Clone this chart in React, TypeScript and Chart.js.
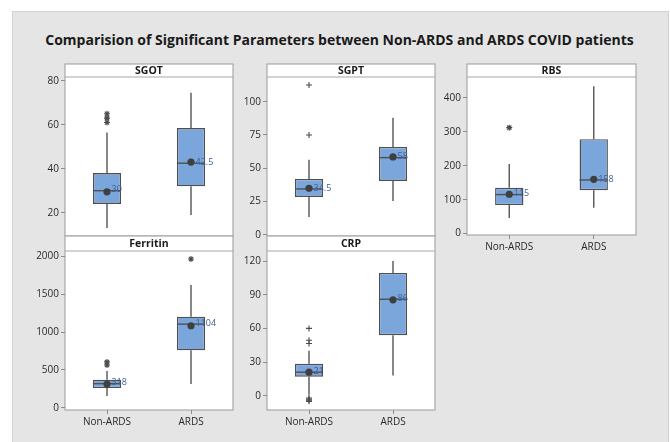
import React, { useEffect, useRef } from 'react';
import { Chart, registerables } from 'chart.js';

Chart.register(...registerables);

const W = 670;
const H = 442;
const FONT = '"Open Sans", "Noto Sans", sans-serif';

const categories = ['Non-ARDS', 'ARDS'];

// Each group: [lower whisker, Q1, median, Q3, upper whisker]
const sgotNonArds = [13, 24, 30, 38, 56.5];
const sgotArds = [19, 32, 42.5, 58.5, 74.5];
const sgotMeans = [29.5, 43];
const sgotOutliersNonArds = [61, 63, 65];
const sgotOutliersArds: number[] = [];
const sgotTicks = [20, 40, 60, 80];

const sgptNonArds = [13.5, 28.5, 34.5, 42, 56.5];
const sgptArds = [25.5, 40.5, 58, 66, 88];
const sgptMeans = [35, 58.5];
const sgptOutliersNonArds = [75, 112.5];
const sgptOutliersArds: number[] = [];
const sgptTicks = [0, 25, 50, 75, 100];

const rbsNonArds = [46, 84, 115, 135, 205];
const rbsArds = [76, 128, 158, 278, 434];
const rbsMeans = [116, 160];
const rbsOutliersNonArds = [312];
const rbsOutliersArds: number[] = [];
const rbsTicks = [0, 100, 200, 300, 400];

const ferritinNonArds = [155, 260, 318, 370, 485];
const ferritinArds = [313, 758, 1104, 1202, 1620];
const ferritinMeans = [313, 1083];
const ferritinOutliersNonArds = [565, 605];
const ferritinOutliersArds = [1965];
const ferritinTicks = [0, 500, 1000, 1500, 2000];

const crpNonArds = [1, 17, 21, 28.5, 40];
const crpArds = [18, 54, 86, 109.5, 120];
const crpMeans = [21, 85.5];
const crpOutliersNonArds = [46.5, 49.5, 60, -2, -3, -4, -5];
const crpOutliersArds: number[] = [];
const crpTicks = [0, 30, 60, 90, 120];

const chartTitle = 'Comparision of Significant Parameters between Non-ARDS and ARDS COVID patients';

type Panel = {
  title: string;
  stats: number[][];
  means: number[];
  outliers: number[][];
  ticks: number[];
  min: number;
  max: number;
  l: number; r: number; t: number; b: number; st: number;
  showX: boolean;
  outlierStyle: string;
};

const panels: Panel[] = [
  { title: 'SGOT', stats: [sgotNonArds, sgotArds], means: sgotMeans, outliers: [sgotOutliersNonArds, sgotOutliersArds], ticks: sgotTicks, min: 9.4, max: 81.7, l: 65, r: 233, t: 77, b: 236, st: 64, showX: false, outlierStyle: 'star' },
  { title: 'SGPT', stats: [sgptNonArds, sgptArds], means: sgptMeans, outliers: [sgptOutliersNonArds, sgptOutliersArds], ticks: sgptTicks, min: -0.8, max: 118.5, l: 267, r: 435, t: 77, b: 236, st: 64, showX: false, outlierStyle: 'cross' },
  { title: 'RBS', stats: [rbsNonArds, rbsArds], means: rbsMeans, outliers: [rbsOutliersNonArds, rbsOutliersArds], ticks: rbsTicks, min: -4, max: 461, l: 467, r: 636, t: 77, b: 235, st: 64, showX: true, outlierStyle: 'star' },
  { title: 'Ferritin', stats: [ferritinNonArds, ferritinArds], means: ferritinMeans, outliers: [ferritinOutliersNonArds, ferritinOutliersArds], ticks: ferritinTicks, min: -30, max: 2070, l: 65, r: 233, t: 251, b: 410, st: 236, showX: true, outlierStyle: 'star' },
  { title: 'CRP', stats: [crpNonArds, crpArds], means: crpMeans, outliers: [crpOutliersNonArds, crpOutliersArds], ticks: crpTicks, min: -12.7, max: 129, l: 267, r: 435, t: 251, b: 410, st: 236, showX: true, outlierStyle: 'cross' },
];

const Y_AXIS_W = 40;
const X_AXIS_H = 30;

const boxPlugin = {
  id: 'boxExtras',
  beforeDraw(chart: any) {
    const { ctx, chartArea: a } = chart;
    const p = chart.options.plugins.boxExtras;
    ctx.save();
    ctx.fillStyle = '#ffffff';
    ctx.fillRect(a.left, p.stripTop, a.right - a.left, a.bottom - p.stripTop);
    ctx.strokeStyle = '#a8a8a8';
    ctx.lineWidth = 1.2;
    ctx.strokeRect(a.left, p.stripTop, a.right - a.left, a.bottom - p.stripTop);
    ctx.beginPath();
    ctx.moveTo(a.left, a.top);
    ctx.lineTo(a.right, a.top);
    ctx.stroke();
    ctx.fillStyle = '#1a1a1a';
    ctx.font = `bold 10.5px ${FONT}`;
    ctx.textAlign = 'center';
    ctx.textBaseline = 'middle';
    ctx.fillText(p.title, (a.left + a.right) / 2, (p.stripTop + a.top) / 2 + 0.5);
    ctx.restore();
  },
  beforeDatasetsDraw(chart: any) {
    const { ctx } = chart;
    const p = chart.options.plugins.boxExtras;
    const xs = chart.scales.x;
    const ys = chart.scales.y;
    ctx.save();
    ctx.strokeStyle = '#555555';
    ctx.lineWidth = 1.4;
    p.stats.forEach((s: number[], i: number) => {
      const x = xs.getPixelForValue(i);
      ctx.beginPath();
      ctx.moveTo(x, ys.getPixelForValue(s[3]));
      ctx.lineTo(x, ys.getPixelForValue(s[4]));
      ctx.moveTo(x, ys.getPixelForValue(s[1]));
      ctx.lineTo(x, ys.getPixelForValue(s[0]));
      ctx.stroke();
    });
    ctx.restore();
  },
  afterDatasetDraw(chart: any, args: any) {
    if (args.index !== 0) return;
    const { ctx } = chart;
    const p = chart.options.plugins.boxExtras;
    const xs = chart.scales.x;
    const ys = chart.scales.y;
    const meta = chart.getDatasetMeta(0);
    ctx.save();
    ctx.strokeStyle = '#505050';
    ctx.lineWidth = 1.4;
    p.stats.forEach((s: number[], i: number) => {
      const x = xs.getPixelForValue(i);
      const w = meta.data[i].width;
      const y = ys.getPixelForValue(s[2]);
      ctx.beginPath();
      ctx.moveTo(x - w / 2, y);
      ctx.lineTo(x + w / 2, y);
      ctx.stroke();
    });
    ctx.restore();
  },
  afterDatasetsDraw(chart: any) {
    const { ctx } = chart;
    const p = chart.options.plugins.boxExtras;
    const xs = chart.scales.x;
    const ys = chart.scales.y;
    ctx.save();
    ctx.fillStyle = '#3f609a';
    ctx.font = `9px ${FONT}`;
    ctx.textAlign = 'left';
    ctx.textBaseline = 'middle';
    p.stats.forEach((s: number[], i: number) => {
      const x = xs.getPixelForValue(i);
      const y = ys.getPixelForValue(s[2]);
      ctx.fillText(String(s[2]), x + 4.5, y - 1);
    });
    ctx.restore();
  },
};

function makeConfig(p: Panel): any {
  const outlierData: any[] = [];
  p.outliers.forEach((arr, i) => arr.forEach((v) => outlierData.push({ x: categories[i], y: v })));
  const tickFont = { family: FONT, size: 10 };
  return {
    type: 'bar',
    data: {
      labels: categories,
      datasets: [
        {
          type: 'bar',
          data: p.stats.map((s) => [s[1], s[3]]),
          backgroundColor: '#7aa6db',
          borderColor: '#4f4f4f',
          borderWidth: 1.4,
          borderSkipped: false,
          barPercentage: 0.335,
          categoryPercentage: 1,
          order: 2,
        },
        {
          type: 'line',
          data: p.means,
          showLine: false,
          pointRadius: 3.6,
          pointBackgroundColor: '#3f3f3f',
          pointBorderColor: '#3f3f3f',
          pointBorderWidth: 0,
          order: 0,
        },
        {
          type: 'line',
          data: outlierData,
          showLine: false,
          pointStyle: p.outlierStyle,
          pointRadius: 3,
          pointBorderColor: '#4a4a4a',
          pointBackgroundColor: '#4a4a4a',
          pointBorderWidth: 1.1,
          order: 1,
        },
      ],
    },
    options: {
      animation: false,
      responsive: false,
      maintainAspectRatio: false,
      events: [],
      layout: {
        padding: {
          left: p.l - Y_AXIS_W,
          right: W - p.r,
          top: p.t,
          bottom: p.showX ? H - p.b - X_AXIS_H : H - p.b,
        },
      },
      plugins: {
        legend: { display: false },
        tooltip: { enabled: false },
        title: { display: false },
        boxExtras: { title: p.title, stripTop: p.st, stats: p.stats },
      },
      scales: {
        x: {
          type: 'category',
          display: p.showX,
          offset: true,
          grid: { display: true, offset: false, drawOnChartArea: false, drawTicks: true, tickLength: 4, color: '#8c8c8c' },
          border: { display: false },
          ticks: { font: tickFont, color: '#2a2a2a', padding: 2, maxRotation: 0 },
          afterFit: (s: any) => { s.height = p.showX ? X_AXIS_H : 0; },
        },
        y: {
          type: 'linear',
          min: p.min,
          max: p.max,
          afterBuildTicks: (s: any) => { s.ticks = p.ticks.map((v) => ({ value: v })); },
          grid: { display: true, drawOnChartArea: false, drawTicks: true, tickLength: 4, color: '#8c8c8c' },
          border: { display: false },
          ticks: { font: tickFont, color: '#2a2a2a', padding: 2, callback: (v: any) => String(v) },
          afterFit: (s: any) => { s.width = Y_AXIS_W; },
        },
      },
    },
    plugins: [boxPlugin],
  };
}

function PanelChart({ panel }: { panel: Panel }) {
  const ref = useRef<HTMLCanvasElement | null>(null);
  useEffect(() => {
    if (!ref.current) return;
    const chart = new Chart(ref.current, makeConfig(panel));
    return () => chart.destroy();
  }, [panel]);
  return (
    <canvas
      ref={ref}
      width={W}
      height={H}
      style={{ position: 'absolute', left: 0, top: 0, width: W, height: H }}
    />
  );
}

export default function App() {
  return (
    <div style={{ position: 'fixed', left: 0, top: 0, width: W, height: H, background: '#ffffff', overflow: 'hidden' }}>
      <div style={{ position: 'absolute', left: 12, top: 11, width: 655, height: 440, background: '#e5e5e5', borderTop: '1px solid #d2d2d2', borderLeft: '1px solid #d2d2d2', borderRight: '1px solid #d2d2d2' }} />
      <div style={{ position: 'absolute', left: 12, top: 31, width: 655, textAlign: 'center', fontFamily: FONT, fontWeight: 700, fontSize: 14, lineHeight: '18px', color: '#1a1a1a', whiteSpace: 'nowrap' }}>
        {chartTitle}
      </div>
      {panels.map((p) => (
        <PanelChart key={p.title} panel={p} />
      ))}
    </div>
  );
}
